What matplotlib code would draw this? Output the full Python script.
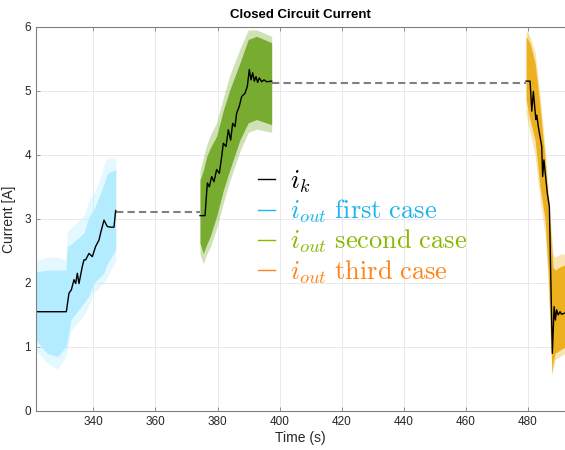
import matplotlib
matplotlib.use("Agg")
import matplotlib.pyplot as plt

plt.rcParams["font.family"] = ["Liberation Sans", "DejaVu Sans"]
plt.rcParams["mathtext.fontset"] = "cm"

# i_out envelopes (dense part and outer spikes of the noisy output current)
first_t = [321.4, 325.1, 328.4, 331.1, 331.6, 332.7, 337.0, 338.6, 340.2, 342.3, 343.4, 344.5, 347.2]
first_hi = [2.17, 2.20, 2.20, 2.20, 2.57, 2.60, 2.78, 3.04, 3.15, 3.40, 3.55, 3.71, 3.77]
first_lo = [1.11, 0.90, 0.85, 1.00, 1.10, 1.42, 1.69, 1.80, 2.00, 2.10, 2.16, 2.30, 2.52]
first_hi_spk = [2.35, 2.40, 2.40, 2.35, 2.80, 2.85, 3.05, 3.30, 3.40, 3.65, 3.85, 3.95, 3.95]
first_lo_spk = [0.95, 0.75, 0.65, 0.85, 0.95, 1.25, 1.50, 1.65, 1.85, 1.95, 2.00, 2.10, 2.35]

second_t = [374.35, 375.4, 376.5, 377.6, 379.7, 381.9, 384.0, 387.2, 389.9, 392.6, 397.45]
second_hi = [3.61, 3.75, 3.97, 4.10, 4.29, 4.70, 5.02, 5.43, 5.80, 5.85, 5.75]
second_lo = [2.62, 2.46, 2.60, 2.72, 3.04, 3.45, 3.77, 4.23, 4.50, 4.55, 4.47]
second_hi_spk = [3.75, 3.95, 4.15, 4.30, 4.50, 4.90, 5.25, 5.65, 5.95, 5.95, 5.85]
second_lo_spk = [2.45, 2.30, 2.45, 2.55, 2.85, 3.25, 3.60, 4.05, 4.35, 4.40, 4.35]

third_t = [479.45, 480.7, 482.35, 483.96, 485.6, 486.55, 487.2, 487.8, 488.15, 488.8, 490.4, 492.0]
third_hi = [5.85, 5.75, 5.44, 4.75, 3.92, 3.30, 2.87, 2.50, 2.25, 2.20, 2.25, 2.28]
third_lo = [4.86, 4.55, 4.23, 3.50, 2.98, 2.20, 1.42, 0.59, 0.75, 0.90, 0.95, 1.00]
third_hi_spk = [5.95, 5.85, 5.60, 4.95, 4.10, 3.50, 3.05, 2.70, 2.45, 2.40, 2.45, 2.45]
third_lo_spk = [4.65, 4.35, 4.00, 3.30, 2.75, 2.00, 1.20, 0.55, 0.65, 0.80, 0.85, 0.90]

# i_k (reference current) during each case
ik1_t = [321.4, 331.27, 332.13, 332.88, 333.74, 334.28, 334.81, 335.35, 336.43, 336.96, 337.5,
         338.57, 339.65, 340.72, 341.8, 342.33, 343.41, 344.48, 345.56, 346.63, 347.17]
ik1 = [1.55, 1.55, 1.84, 1.89, 2.05, 1.99, 2.15, 1.99, 2.26, 2.36, 2.36,
       2.46, 2.41, 2.57, 2.67, 2.78, 2.98, 2.88, 2.87, 2.87, 3.13]

ik2_t = [374.35, 375.97, 376.72, 377.36, 378.11, 378.86, 379.72, 380.58, 381.34, 381.87, 382.73,
         383.48, 384.24, 384.88, 385.63, 386.17, 387.03, 387.78, 388.86, 389.61, 390.25, 390.79,
         391.33, 391.86, 392.4, 392.94, 393.47, 394.23, 394.98, 395.84, 397.45]
ik2 = [3.05, 3.05, 3.56, 3.50, 3.66, 3.58, 3.77, 3.71, 3.97, 4.18, 4.13,
       4.39, 4.23, 4.49, 4.44, 4.65, 4.76, 4.91, 4.96, 5.07, 5.33, 5.17,
       5.28, 5.15, 5.22, 5.13, 5.20, 5.14, 5.17, 5.14, 5.15]

ik3_t = [479.45, 480.74, 481.3, 481.8, 482.6, 482.9, 483.4, 484.5, 484.8, 485.2, 486.3,
         486.96, 487.7, 487.93, 488.5, 488.9, 489.3, 489.8, 490.4, 490.9, 492.0]
ik3 = [5.15, 5.15, 4.68, 4.99, 4.55, 4.62, 4.44, 4.13, 3.66, 3.92, 3.40,
       3.19, 1.42, 0.90, 1.63, 1.42, 1.58, 1.50, 1.55, 1.51, 1.53]

# held values between the cases
hold_t = [[347.17, 374.35], [397.45, 479.45]]
hold_i = [[3.10, 3.10], [5.12, 5.12]]

c_first, c_second, c_third = "#1EB4EE", "#8AB800", "#FF8418"

fig = plt.figure(figsize=(5.65, 4.5), dpi=100)
ax = fig.add_axes([0.0632, 0.0867, 0.9368, 0.854])

bands = [
    (first_t, first_lo, first_hi, first_lo_spk, first_hi_spk, "#B3EBFF"),
    (second_t, second_lo, second_hi, second_lo_spk, second_hi_spk, "#77AC30"),
    (third_t, third_lo, third_hi, third_lo_spk, third_hi_spk, "#EDB120"),
]
for t, lo, hi, lo_s, hi_s, col in bands:
    ax.fill_between(t, lo_s, hi_s, color=col, alpha=0.35, lw=0)
    ax.fill_between(t, lo, hi, color=col, lw=0)

for t, v in zip(hold_t, hold_i):
    ax.plot(t, v, color="#808080", lw=1.5, ls=(0, (3.5, 2)))

ax.plot(ik1_t, ik1, color="k", lw=1)
ax.plot(ik2_t, ik2, color="k", lw=1)
ax.plot(ik3_t, ik3, color="k", lw=1)

ax.set_xlim(321.4, 492.0)
ax.set_ylim(0, 6)
ax.set_xticks(range(340, 481, 20))
ax.set_yticks(range(0, 7))
ax.grid(True, color="#E6E6E6", lw=0.6)
ax.set_axisbelow(True)
ax.tick_params(direction="in", length=3, width=0.6, colors="#808080",
               labelcolor="#262626", labelsize=8.5, top=True)
for side in ["left", "bottom", "top"]:
    ax.spines[side].set_color("#808080")
    ax.spines[side].set_linewidth(0.8)
ax.spines["right"].set_visible(False)

ax.set_title("Closed Circuit Current", fontsize=9.5, fontweight="bold", pad=6)
ax.set_xlabel("Time (s)", fontsize=10, color="#262626", labelpad=2)
ax.set_ylabel("Current [A]", fontsize=10, color="#262626", labelpad=6)

h = [plt.Line2D([], [], color=c, lw=1) for c in ["k", c_first, c_second, c_third]]
labels = [r"$i_k$", r"$i_{out}\ \mathrm{first\ case}$",
          r"$i_{out}\ \mathrm{second\ case}$", r"$i_{out}\ \mathrm{third\ case}$"]
leg = ax.legend(h, labels, loc="upper left", bbox_to_anchor=(0.40, 0.658), frameon=False,
                fontsize=19, handlelength=0.64, handletextpad=0.56, labelspacing=0.1,
                borderaxespad=0)
for txt, c in zip(leg.get_texts(), ["k", c_first, c_second, c_third]):
    txt.set_color(c)

fig.savefig("out.png", dpi=100)
